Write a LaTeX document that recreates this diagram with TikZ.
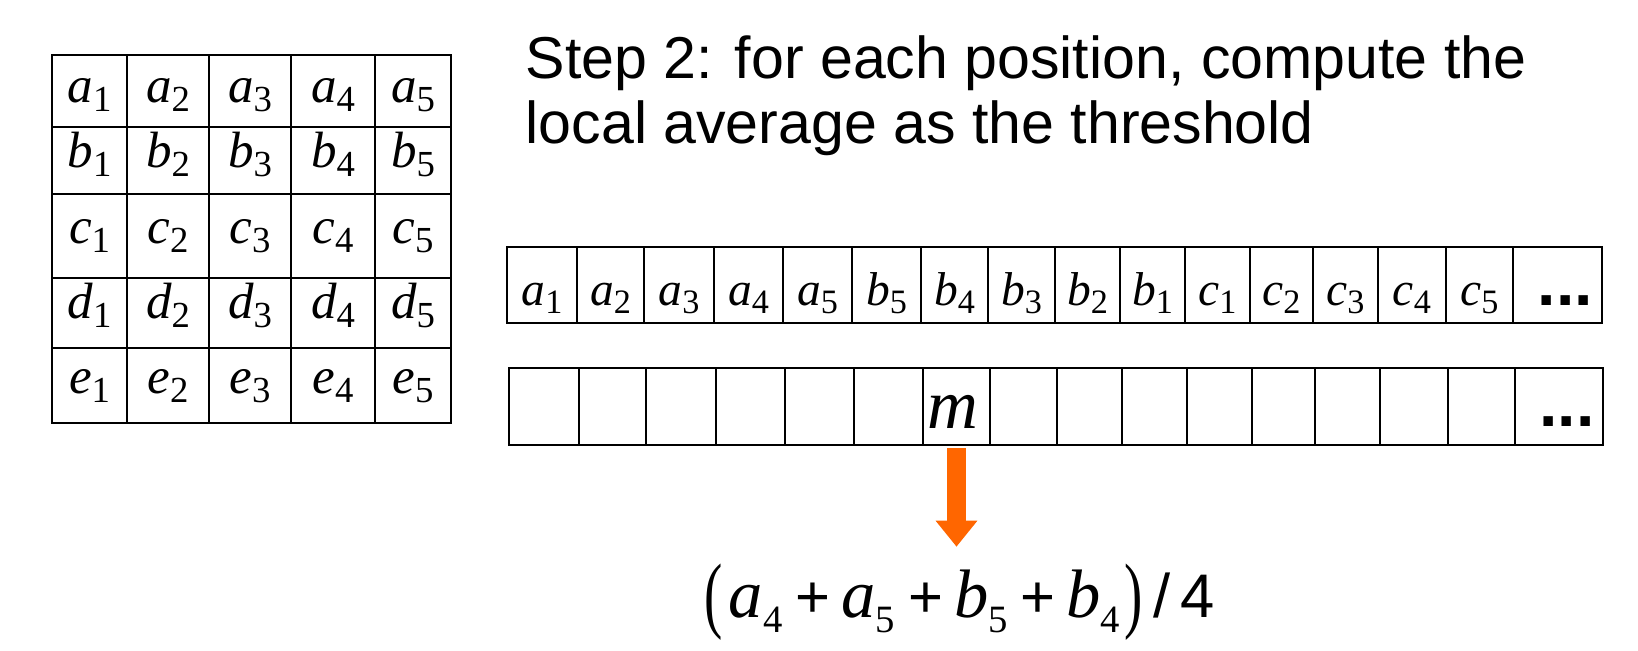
\documentclass[tikz,border=0pt]{standalone}
\usepackage{graphicx}
\usepackage{fontspec}
\setmainfont{Liberation Serif}
\setsansfont{Liberation Sans}
\usepackage{tikz}
\usetikzlibrary{positioning,arrows.meta,calc}
\usepackage{xcolor}
\definecolor{ArrowOrange}{RGB}{255,102,0}
\newcommand{\ix}[2]{\textit{#1}\raisebox{-0.18em}{\scalebox{0.72}{#2}}}
\newcommand{\fsub}[2]{\textit{#1}\raisebox{-0.15cm}{\fontsize{11}{12}\selectfont #2}}
\newcommand{\fplus}{\hspace{0.13cm}{\sffamily\fontsize{17}{18}\selectfont +}\hspace{0.11cm}}
\newcommand{\bigpar}[1]{\raisebox{-0.05cm}{\scalebox{0.65}[1]{\fontsize{24}{24}\selectfont #1}}}

\begin{document}
\begin{tikzpicture}[
    x=0.01cm, y=-0.01cm,
    gridline/.style={line width=0.6pt, line cap=rect},
    entry/.style={anchor=base, inner sep=0pt, font=\fontsize{14.5}{16}\selectfont},
    cell/.style={rectangle, draw=black, line width=0.6pt, inner sep=0pt, outer sep=0pt,
                 text height=0.45cm, text depth=0.05cm, font=\fontsize{13.5}{15}\selectfont},
    dots/.style={font=\sffamily\bfseries\fontsize{18.8}{20}\selectfont},
    title/.style={anchor=base west, inner sep=0pt, font=\sffamily\fontsize{16.8}{20}\selectfont},
    avgarrow/.style={draw=ArrowOrange, line width=0.18cm,
                     -{Triangle[width=0.4cm, length=0.26cm]}, shorten <=0.03cm, shorten >=0.16cm}
]
\useasboundingbox (0,0) rectangle (1638,650);

\node[title] (step1) at (525,78) {Step 2: for each position, compute the};
\node[title] (step2) at (525,143) {local average as the threshold};

\foreach \x in {52,127,209,291,375,451}
  \draw[gridline] (\x,55) -- (\x,423);
\foreach \y in {55,127,194,278,348,423}
  \draw[gridline] (52,\y) -- (451,\y);
\foreach \lt/\yb in {a/102, b/167, c/243, d/318, e/393}
  \foreach \x [count=\j] in {89.5,168,250,333,413}
    \node[entry] (g-\lt\j) at (\x,\yb) {\ix{\lt}{\j}};

\foreach \xl/\xr/\lt/\nr [count=\i] in {507/577/a/1, 577/644/a/2, 644/714/a/3, 714/783/a/4,
    783/852/a/5, 852/921/b/5, 921/988/b/4, 988/1055/b/3, 1055/1120/b/2, 1120/1185/b/1,
    1185/1250/c/1, 1250/1313/c/2, 1313/1378/c/3, 1378/1446/c/4, 1446/1513/c/5}
{
  \pgfmathsetmacro\w{(\xr-\xl)*0.01}
  \node[cell, minimum width=\w cm, minimum height=0.76cm] (s\i) at ({(\xl+\xr)/2},285) {\ix{\lt}{\nr}};
}
\node[cell, dots, minimum width=0.89cm, minimum height=0.76cm] (s16) at (1557.5,285) {\hspace*{0.16cm}...};

\foreach \xl/\xr [count=\i] in {509/579, 579/646, 646/716, 716/785, 785/854, 854/923,
    923/990, 990/1057, 1057/1122, 1122/1187, 1187/1252, 1252/1315, 1315/1380, 1380/1448, 1448/1515}
{
  \pgfmathsetmacro\w{(\xr-\xl)*0.01}
  \node[cell, minimum width=\w cm, minimum height=0.77cm] (m\i) at ({(\xl+\xr)/2},406.5) {};
}
\node[cell, dots, minimum width=0.88cm, minimum height=0.77cm] (m16) at (1559,406.5) {\hspace*{0.16cm}...};
\node[anchor=base, inner sep=0pt, font=\fontsize{20}{22}\selectfont] (mval) at ($(m7.base)+(-4,2)$) {\textit{m}};

\node[anchor=base west, inner sep=0pt, font=\fontsize{19.5}{21}\selectfont] (avg) at (704,617)
  {\bigpar{(}\hspace{0.06cm}\fsub{a}{4}\fplus\fsub{a}{5}\fplus\fsub{b}{5}\fplus\fsub{b}{4}\hspace{0.04cm}\bigpar{)}\hspace{0.11cm}{\sffamily\fontsize{17.5}{18}\selectfont/\hspace{0.1cm}4}};

\draw[avgarrow] (m7.south) -- (m7.south |- avg.north);
\end{tikzpicture}
\end{document}
